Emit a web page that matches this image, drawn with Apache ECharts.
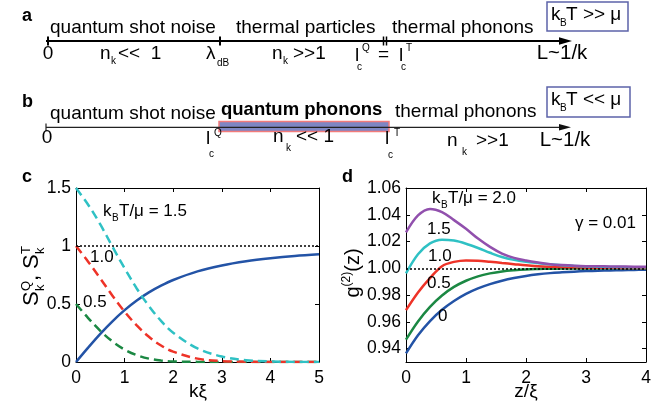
<!DOCTYPE html>
<html>
<head>
<meta charset="utf-8">
<script src="https://cdn.jsdelivr.net/npm/echarts@6/dist/echarts.min.js"></script>
<style>
  html, body { margin: 0; padding: 0; background: #fff; }
  #main { width: 672px; height: 411px; }
</style>
</head>
<body>
<div id="main"></div>
<script>
// panel c: structure factors vs k*xi
const kXi = [0, 0.25, 0.5, 0.75, 1, 1.25, 1.5, 1.75, 2, 2.5, 3, 3.5, 4, 4.5, 5];
const sQ = [0, 0.124, 0.243, 0.351, 0.447, 0.530, 0.600, 0.658, 0.707, 0.781, 0.832, 0.868, 0.894, 0.914, 0.928];
const sT15 = [1.5, 1.356, 1.186, 0.994, 0.808, 0.634, 0.482, 0.354, 0.253, 0.117, 0.047, 0.016, 0.005, 0.001, 0];
const sT10 = [1.0, 0.865, 0.720, 0.572, 0.434, 0.315, 0.217, 0.142, 0.089, 0.029, 0.008, 0.002, 0, 0, 0];
const sT05 = [0.5, 0.379, 0.269, 0.177, 0.107, 0.059, 0.029, 0.013, 0.005, 0.001, 0, 0, 0, 0, 0];

// panel d: g2(z) for kBT/mu = 0, 0.5, 1.0, 1.5, 2.0
const zXi = [0, 0.2, 0.4, 0.6, 0.8, 1.0, 1.2, 1.4, 1.6, 1.8, 2.0, 2.2, 2.4, 2.6, 2.8, 3.0, 3.2, 3.4, 3.6, 3.8, 4.0];
const g00 = [0.9365, 0.9500, 0.9606, 0.9690, 0.9756, 0.9809, 0.9850, 0.9882, 0.9907, 0.9927, 0.9943,
  0.9955, 0.9964, 0.9970, 0.9975, 0.9979, 0.9982, 0.9984, 0.9986, 0.9988, 0.9989];
const g05 = [0.9467, 0.9603, 0.9712, 0.9797, 0.9861, 0.9907, 0.9940, 0.9962, 0.9977, 0.9986, 0.9992,
  0.9995, 0.9997, 0.9998, 0.9999, 0.9999, 0.9999, 1.0, 1.0, 1.0, 1.0];
const g10 = [0.9687, 0.9820, 0.9927, 1.0016, 1.0048, 1.0059, 1.0057, 1.0049, 1.0040, 1.0031, 1.0022,
  1.0016, 1.0012, 1.0009, 1.0007, 1.0005, 1.0004, 1.0004, 1.0003, 1.0003, 1.0002];
const g15 = [0.9962, 1.0105, 1.0186, 1.0214, 1.0207, 1.0184, 1.0152, 1.0116, 1.0084, 1.0063, 1.0049,
  1.0039, 1.0030, 1.0023, 1.0018, 1.0014, 1.0012, 1.0010, 1.0009, 1.0008, 1.0007];
const g20 = [1.0268, 1.0395, 1.0444, 1.0420, 1.0360, 1.0295, 1.0222, 1.0160, 1.0110, 1.0078, 1.0058,
  1.0043, 1.0031, 1.0024, 1.0019, 1.0016, 1.0015, 1.0014, 1.0013, 1.0012, 1.0012];

const cTicksY = [0, 0.5, 1, 1.5];
const dTicksY = [0.94, 0.96, 0.98, 1.00, 1.02, 1.04, 1.06];

const FONT = '"Liberation Sans", Arial, sans-serif';
const BLUE = '#2353a6', CYAN = '#2fc1c4', RED = '#ee3328', GREEN = '#1b8843', PURPLE = '#9150ad';
const BOX = '#5c63a9';

function pairs(xs, ys) { return xs.map((x, i) => [x, ys[i]]); }

// text with baseline at y
function T(x, base, text, size, o) {
  o = o || {};
  const al = o.align || 'left';
  return {
    type: 'text', x: x, y: base - 0.35 * size, z: 20,
    style: {
      text: text, font: (o.bold ? 'bold ' : '') + size + 'px ' + FONT, fill: o.fill || '#000',
      align: al, verticalAlign: 'middle', textAlign: al, textVerticalAlign: 'middle'
    }
  };
}
function L(x1, y1, x2, y2, w, c) {
  return { type: 'line', z: 5, shape: { x1: x1, y1: y1, x2: x2, y2: y2 }, style: { stroke: c || '#000', lineWidth: w } };
}

const graphics = [
  // ---- panel a
  T(22, 22, 'a', 18, { bold: true }),
  L(46, 41, 562, 41, 2),
  { type: 'polygon', z: 5, shape: { points: [[559, 37.3], [572, 41], [559, 44.7]] }, style: { fill: '#000' } },
  L(48, 36.5, 48, 45.5, 2), L(220, 36.5, 220, 45.5, 2),
  L(383.5, 36.5, 383.5, 45.5, 1.5), L(386.5, 36.5, 386.5, 45.5, 1.5),
  T(50, 34, 'quantum shot noise', 19),
  T(236, 34, 'thermal particles', 19),
  T(392, 34, 'thermal phonons', 19),
  T(48, 60, '0', 19, { align: 'center' }),
  T(100, 60, 'n', 19), T(111, 65, 'k', 10), T(118, 60, '<<  1', 19),
  T(206, 60, 'λ', 19), T(217, 67, 'dB', 10),
  T(272, 60, 'n', 19), T(283, 65, 'k', 10), T(293, 60, '>>1', 19),
  T(355, 62, 'l', 19), T(357, 71, 'c', 10), T(362, 52, 'Q', 10), T(378, 61, '=', 19),
  T(399, 62, 'l', 19), T(401, 71, 'c', 10), T(406, 52, 'T', 10),
  T(562, 61, 'L~1/k', 20.5, { align: 'center' }),
  { type: 'rect', z: 5, shape: { x: 547, y: 2, width: 81, height: 29 }, style: { fill: '#fff', stroke: BOX, lineWidth: 1.5 } },
  T(551, 21, 'k', 19), T(560, 27, 'B', 10), T(566, 21, 'T >> μ', 19),
  // ---- panel b
  T(22, 108, 'b', 18, { bold: true }),
  { type: 'rect', z: 3, shape: { x: 219, y: 121.5, width: 170, height: 10 }, style: { fill: '#7e86c4', stroke: '#f27b7b', lineWidth: 1.5 } },
  L(46, 127.3, 562, 127.3, 1.2, '#222'),
  { type: 'polygon', z: 5, shape: { points: [[559, 124], [571, 127.3], [559, 130.6]] }, style: { fill: '#111' } },
  L(46, 123.5, 46, 131, 1.2, '#222'),
  T(50, 120, 'quantum shot noise', 19),
  T(221, 116, 'quantum phonons', 18.5, { bold: true }),
  T(395, 118, 'thermal phonons', 19),
  T(47, 144, '0', 19, { align: 'center' }),
  T(206, 145, 'l', 19), T(209, 158, 'c', 10), T(214, 137, 'Q', 10),
  T(273, 143, 'n', 19), T(286, 152, 'k', 10), T(296, 143, '<< 1', 19),
  T(385, 145, 'l', 19), T(388, 159, 'c', 10), T(394, 137, 'T', 10),
  T(447, 147, 'n', 19), T(462, 156, 'k', 10), T(476, 147, '>>1', 19),
  T(565, 148, 'L~1/k', 20.5, { align: 'center' }),
  { type: 'rect', z: 5, shape: { x: 547, y: 87, width: 83, height: 30 }, style: { fill: '#fff', stroke: BOX, lineWidth: 1.5 } },
  T(551, 106, 'k', 19), T(560, 112, 'B', 10), T(566, 106, 'T << μ', 19),
  // ---- panel c labels
  T(22, 183, 'c', 18, { bold: true }),
  T(103, 217, 'k', 17), T(112, 222, 'B', 10), T(119, 217, 'T/μ = 1.5', 17),
  T(90, 263, '1.0', 17),
  T(83, 308, '0.5', 17),
  T(198, 398, 'kξ', 19, { align: 'center' }),
  {
    type: 'group', x: 40, y: 273, rotation: Math.PI / 2,
    children: [
      T(-33, 0, 'S', 22), T(-18, -9, 'Q', 13), T(-18, 5, 'k', 13),
      T(-8, 0, ',', 22), T(4, 0, 'S', 22), T(19, -9, 'T', 13), T(19, 5, 'k', 13)
    ]
  },
  // ---- panel d labels
  T(342, 183, 'd', 18, { bold: true }),
  T(432, 204, 'k', 17), T(441, 209, 'B', 10), T(448, 204, 'T/μ = 2.0', 17),
  T(427, 235, '1.5', 17),
  T(428, 262, '1.0', 17),
  T(427, 289, '0.5', 17),
  T(438, 322, '0', 17),
  T(575, 229, 'γ = 0.01', 17),
  T(526, 398, 'z/ξ', 19, { align: 'center' }),
  {
    type: 'group', x: 360, y: 273, rotation: Math.PI / 2,
    children: [
      T(-24.5, 0, 'g', 20), T(-13.4, -9, '(2)', 12), T(1.3, 0, '(z)', 20)
    ]
  }
];

const tick = { show: true, inside: true, length: 4, lineStyle: { color: '#000', width: 1 } };
const line = { show: true, onZero: false, lineStyle: { color: '#000', width: 1 } };
const lab = { color: '#000', fontSize: 17.5, fontFamily: FONT };

function xAx(grid, max, top) {
  return {
    type: 'value', gridIndex: grid, min: 0, max: max, interval: 1, position: top ? 'top' : 'bottom',
    axisLine: line, axisTick: tick, splitLine: { show: false },
    axisLabel: top ? { show: false } : Object.assign({ margin: 7 }, lab)
  };
}

function curve(xi, yi, xs, ys, color, dashed) {
  return {
    type: 'line', xAxisIndex: xi, yAxisIndex: yi, data: pairs(xs, ys), showSymbol: false, smooth: 0.35,
    lineStyle: { color: color, width: 2.5, type: dashed ? [9, 5] : 'solid' }
  };
}
const unity = {
  silent: true, symbol: ['none', 'none'], label: { show: false },
  lineStyle: { color: '#000', width: 1.5, type: [2, 2] }, data: [{ yAxis: 1 }]
};

const series = [
  curve(0, 0, kXi, sQ, BLUE, false),
  curve(0, 0, kXi, sT05, GREEN, true),
  curve(0, 0, kXi, sT10, RED, true),
  curve(0, 0, kXi, sT15, CYAN, true),
  curve(2, 2, zXi, g00, BLUE, false),
  curve(2, 2, zXi, g05, GREEN, false),
  curve(2, 2, zXi, g10, RED, false),
  curve(2, 2, zXi, g15, CYAN, false),
  curve(2, 2, zXi, g20, PURPLE, false)
];
series[3].markLine = unity;
series[8].markLine = unity;

const option = {
  animation: false,
  backgroundColor: '#fff',
  grid: [
    { left: 76, top: 188, width: 243, height: 174 },
    { left: 406, top: 188, width: 240, height: 174 }
  ],
  xAxis: [xAx(0, 5, false), xAx(0, 5, true), xAx(1, 4, false), xAx(1, 4, true)],
  yAxis: [
    {
      type: 'value', gridIndex: 0, min: 0, max: 1.5, position: 'left',
      axisLine: line, splitLine: { show: false },
      axisTick: Object.assign({ customValues: cTicksY }, tick),
      axisLabel: Object.assign({ margin: 5, customValues: cTicksY }, lab)
    },
    {
      type: 'value', gridIndex: 0, min: 0, max: 1.5, position: 'right',
      axisLine: line, splitLine: { show: false },
      axisTick: Object.assign({ customValues: cTicksY }, tick), axisLabel: { show: false }
    },
    {
      type: 'value', gridIndex: 1, min: 0.93, max: 1.06, position: 'left',
      axisLine: line, splitLine: { show: false },
      axisTick: Object.assign({ customValues: dTicksY }, tick),
      axisLabel: Object.assign({ margin: 5, customValues: dTicksY, formatter: v => v.toFixed(2) }, lab)
    },
    {
      type: 'value', gridIndex: 1, min: 0.93, max: 1.06, position: 'right',
      axisLine: line, splitLine: { show: false },
      axisTick: Object.assign({ customValues: dTicksY }, tick), axisLabel: { show: false }
    }
  ],
  series: series,
  graphic: graphics
};

const chart = echarts.init(document.getElementById('main'));
chart.setOption(option);
</script>
</body>
</html>
